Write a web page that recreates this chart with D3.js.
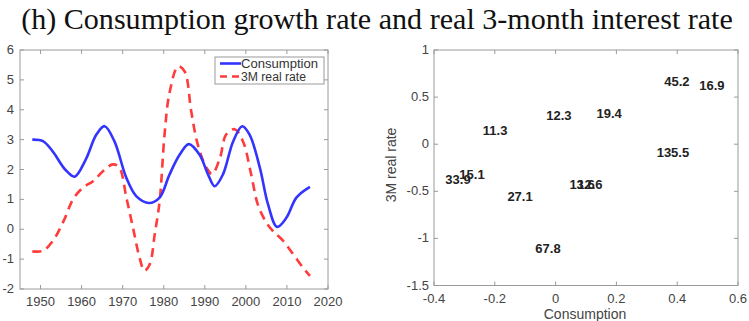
<!DOCTYPE html>
<html><head><meta charset="utf-8">
<script src="https://cdn.jsdelivr.net/npm/d3@7"></script>
<style>body{margin:0;background:#fff}svg{display:block}</style>
</head><body>
<svg id="c" width="749" height="321"></svg>
<script>
const title = "(h) Consumption growth rate and real 3-month interest rate";
// Left panel: time series
const consYears = [1948,1950.6,1953,1956,1958.3,1961,1963.6,1965.6,1968,1970.9,1973.3,1976.4,1979,1981.4,1983.9,1986.1,1988.7,1990.8,1992.4,1994.4,1996.9,1999.1,2000.9,2003.4,2005.4,2007.6,2009.9,2012.3,2015.6];
const consValues = [3.0,2.95,2.6,2.0,1.76,2.33,3.17,3.45,2.94,1.72,1.11,0.88,1.06,1.83,2.5,2.85,2.5,1.83,1.44,1.83,2.94,3.45,3.17,2.06,0.83,0.08,0.39,1.06,1.42];
const rateYears = [1948,1950.6,1953,1955.8,1957.9,1960.3,1962.8,1965.2,1967.6,1969.2,1970.9,1972.5,1974.1,1975.3,1976.6,1977.8,1979,1980.2,1981.4,1983.5,1985.1,1986.7,1988.3,1990.4,1991.8,1993.7,1995.2,1997.3,1999.3,2001.3,2002.9,2005,2006.6,2009.1,2011.5,2013.9,2015.6];
const rateValues = [-0.74,-0.72,-0.39,0.33,1.0,1.39,1.61,1.94,2.17,2.06,1.06,0.06,-0.94,-1.39,-1.17,-0.17,0.94,3.17,4.56,5.45,5.28,3.94,2.83,2.06,1.85,2.39,3.17,3.35,2.94,1.83,0.83,0.22,-0.06,-0.39,-0.83,-1.28,-1.56];
const seriesNames = ["Consumption","3M real rate"];
const leftXTicks = [1950,1960,1970,1980,1990,2000,2010,2020];
const leftYTicks = [-2,-1,0,1,2,3,4,5,6];
// Right panel: labelled scatter
const pointLabels = ["45.2","16.9","12.3","19.4","11.3","135.5","33.9","15.1","27.1","67.8","13.6","12.6"];
const pointX = [0.399,0.514,0.011,0.176,-0.199,0.386,-0.321,-0.275,-0.117,-0.025,0.087,0.113];
const pointY = [0.67,0.62,0.30,0.33,0.15,-0.09,-0.37,-0.32,-0.56,-1.11,-0.43,-0.43];
const rightXTicks = [-0.4,-0.2,0,0.2,0.4,0.6];
const rightYTicks = [-1.5,-1,-0.5,0,0.5,1];

const svg = d3.select("#c");
const axisFont = "Liberation Sans, Arial, sans-serif";
const gridCol = "#9a9a9a", labCol = "#444";

// Title
const t = svg.append("text").attr("x",377).attr("y",29).attr("text-anchor","middle")
  .attr("font-family","Liberation Serif, Times New Roman, serif").attr("font-size",24).attr("fill","#111").text(title);
const tw = t.node().getComputedTextLength();
t.attr("font-size", 24*712/tw);

function box(g, x, y, xt, yt, fmtX, fmtY, yLabRight){
  const [x0,x1] = x.range(), [y1,y0] = y.range();
  g.append("rect").attr("x",x0).attr("y",y0).attr("width",x1-x0).attr("height",y1-y0)
    .attr("fill","none").attr("stroke",gridCol).attr("stroke-width",1);
  const tl = 4;
  xt.forEach(v=>{
    const px = x(v);
    g.append("line").attr("x1",px).attr("x2",px).attr("y1",y1).attr("y2",y1-tl).attr("stroke",gridCol);
    g.append("line").attr("x1",px).attr("x2",px).attr("y1",y0).attr("y2",y0+tl).attr("stroke",gridCol);
    g.append("text").attr("x",px).attr("y",y1+17).attr("text-anchor","middle")
      .attr("font-family",axisFont).attr("font-size",13).attr("fill",labCol).text(fmtX(v));
  });
  yt.forEach(v=>{
    const py = y(v);
    g.append("line").attr("x1",x0).attr("x2",x0+tl).attr("y1",py).attr("y2",py).attr("stroke",gridCol);
    g.append("line").attr("x1",x1).attr("x2",x1-tl).attr("y1",py).attr("y2",py).attr("stroke",gridCol);
    g.append("text").attr("x",x0-yLabRight).attr("y",py+4).attr("text-anchor","end")
      .attr("font-family",axisFont).attr("font-size",13).attr("fill",labCol).text(fmtY(v));
  });
}

// Left panel
const xL = d3.scaleLinear().domain([1945,2020]).range([20,328]);
const yL = d3.scaleLinear().domain([-2,6]).range([289,50]);
const gL = svg.append("g");
box(gL, xL, yL, leftXTicks, leftYTicks, d=>String(d), d=>String(d), 6);
const line = d3.line().curve(d3.curveCatmullRom.alpha(0.5)).x(d=>xL(d[0])).y(d=>yL(d[1]));
gL.append("path").datum(rateYears.map((yr,i)=>[yr,rateValues[i]])).attr("d",line)
  .attr("fill","none").attr("stroke","#ff3b3b").attr("stroke-width",2.6).attr("stroke-dasharray","9,6");
gL.append("path").datum(consYears.map((yr,i)=>[yr,consValues[i]])).attr("d",line)
  .attr("fill","none").attr("stroke","#3434ff").attr("stroke-width",2.6);
// Legend
const lg = gL.append("g");
lg.append("rect").attr("x",215).attr("y",57).attr("width",109).attr("height",27).attr("fill","#fff").attr("stroke",gridCol);
const legendStyles = [{c:"#3434ff",d:null},{c:"#ff3b3b",d:"7,5"}];
seriesNames.forEach((n,i)=>{
  const yy = 63.5 + i*13;
  lg.append("line").attr("x1",220).attr("x2",241).attr("y1",yy).attr("y2",yy)
    .attr("stroke",legendStyles[i].c).attr("stroke-width",2.6).attr("stroke-dasharray",legendStyles[i].d);
  lg.append("text").attr("x",241).attr("y",yy+4.5).attr("font-family",axisFont).attr("font-size",12.5)
    .attr("fill","#333").attr("textLength",i===0?77:65).attr("lengthAdjust","spacingAndGlyphs").text(n);
});

// Right panel
const xR = d3.scaleLinear().domain([-0.4,0.6]).range([434,738]);
const yR = d3.scaleLinear().domain([-1.5,1]).range([285.5,50]);
const gR = svg.append("g");
box(gR, xR, yR, rightXTicks, rightYTicks, d=>String(d), d=>String(d), 5);
gR.append("text").attr("transform",`translate(396,165) rotate(-90)`).attr("text-anchor","middle")
  .attr("font-family",axisFont).attr("font-size",14).attr("fill",labCol).text("3M real rate");
gR.append("text").attr("x",585).attr("y",319).attr("text-anchor","middle")
  .attr("font-family",axisFont).attr("font-size",14).attr("fill",labCol).text("Consumption");
pointLabels.forEach((lab,i)=>{
  gR.append("text").attr("x",xR(pointX[i])).attr("y",yR(pointY[i])+4.5).attr("text-anchor","middle")
    .attr("font-family",axisFont).attr("font-size",13).attr("font-weight","bold").attr("fill","#222").text(lab);
});
</script>
</body></html>
